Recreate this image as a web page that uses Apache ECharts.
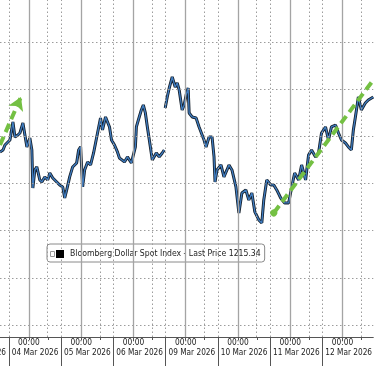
<!DOCTYPE html>
<html><head><meta charset="utf-8">
<script src="https://cdn.jsdelivr.net/npm/echarts@6/dist/echarts.min.js"></script>
<style>html,body{margin:0;padding:0;background:#fff}#c{width:375px;height:366px}</style>
</head><body><div id="c"></div>
<script>
// ---- data ----
const seriesName = 'Bloomberg Dollar Spot Index - Last Price 1215.34';
const dayLabels = ['04 Mar 2026','05 Mar 2026','06 Mar 2026','09 Mar 2026','10 Mar 2026','11 Mar 2026','12 Mar 2026'];
const prevDayLabel = '03 Mar 2026';
const timeLabel = '00:00';
// x = trading-day position (0 = start of 04 Mar session)
const times = [
 -0.171,-0.114,-0.076,-0.038,0.019,0.076,0.114,0.171,0.210,0.267,0.305,0.343,0.400,0.438,0.457,0.495,0.533,0.590,0.629,0.686,
 0.743,0.781,0.838,0.914,0.971,1.029,1.067,1.105,1.162,1.219,1.295,1.333,1.371,1.410,1.448,1.505,1.562,1.619,1.657,1.714,
 1.752,1.790,1.848,1.886,1.924,1.962,2.019,2.076,2.114,2.210,2.267,2.343,2.381,2.419,2.438,2.476,2.533,2.571,2.610,2.648,
 2.686,2.743,2.819,2.876,2.933,2.971,2.980,
 2.990,3.029,3.067,3.124,3.181,3.219,3.257,3.314,3.352,3.390,3.429,3.448,3.505,3.581,3.638,3.676,3.733,3.771,3.829,3.886,
 3.924,3.943,3.981,4.019,4.057,4.114,4.171,4.210,4.267,4.343,4.400,4.457,4.533,4.590,4.648,4.705,4.781,4.838,4.876,4.933,
 5.010,5.067,5.124,5.200,5.276,5.352,5.410,5.467,5.543,5.600,5.676,5.733,5.790,5.867,5.924,5.981,6.057,6.114,6.171,6.248,
 6.305,6.362,6.438,6.495,6.552,6.590,6.629,6.686,6.743,6.819,6.876,6.971
];
const prices = [
 1208.34,1208.55,1209.08,1208.87,1209.61,1211.52,1209.93,1210.14,1210.35,1211.41,1210.14,1208.87,1209.82,1208.55,1204.52,1206.43,1206.75,1205.37,1205.16,1205.69,
 1205.37,1206.11,1205.58,1205.16,1204.84,1204.63,1203.46,1204.31,1205.69,1206.75,1207.17,1208.55,1208.87,1204.63,1206.43,1207.28,1206.96,1208.23,1209.29,1210.88,
 1211.94,1210.67,1212.05,1212.26,1210.99,1209.61,1209.08,1208.34,1207.70,1207.28,1207.81,1207.17,1206.96,1208.87,1210.99,1211.73,1212.79,1213.32,1212.47,1210.99,
 1209.61,1207.49,1208.23,1207.81,1208.23,1208.55,null,
 1213.00,1214.17,1215.12,1216.29,1215.23,1215.65,1214.91,1212.79,1213.32,1214.38,1215.12,1212.47,1212.05,1211.94,1210.99,1211.20,1209.61,1208.87,1209.93,1209.93,
 1207.81,1205.16,1206.43,1206.43,1206.96,1205.69,1206.43,1206.96,1206.43,1204.63,1201.87,1203.99,1204.31,1203.25,1203.99,1201.98,1201.13,1200.81,1203.25,1205.37,
 1204.84,1204.84,1204.31,1203.46,1202.93,1202.93,1204.63,1206.11,1205.37,1206.96,1205.37,1208.02,1208.55,1207.81,1208.23,1210.35,1210.99,1209.61,1210.99,1211.20,
 1210.35,1209.61,1209.29,1208.87,1208.55,1210.67,1212.05,1214.17,1212.79,1213.53,1213.85,1214.17
];
const gridPrices = [1190,1195,1200,1205,1210,1215,1220];
const trendArrow1 = [[-0.171,1209.08],[0.229,1214.17]];
const trendArrow2 = [[5.067,1201.87],[6.971,1215.97]];

// ---- layout / style ----
const F = "'DejaVu Sans Condensed','DejaVu Sans',sans-serif";
const xMin = -9/52.5, xMax = 366/52.5;
const dayIdx = dayLabels.map((_,i)=>i);
const midnightX = dayIdx.map(d=>d+0.381);
const eveningX = dayIdx.map(d=>d+0.743);
const dayStartX = dayIdx.map(d=>d);
const dayMidX = dayIdx.map(d=>d+0.5);
const gridGray = '#9c9c9c';
const dotStyle = {color:gridGray, width:1, type:[1.5,2.5]};
const solidStyle = {color:'#a4a4a4', width:1.3, type:'solid'};

const lineData = times.map((t,i)=>[t, prices[i]]);

const gridMarks = []
  .concat(gridPrices.map(v=>({yAxis:v, lineStyle:dotStyle})))
  .concat(dayStartX.map(v=>({xAxis:v, lineStyle:dotStyle})))
  .concat(eveningX.map(v=>({xAxis:v, lineStyle:dotStyle})))
  .concat(midnightX.map(v=>({xAxis:v, lineStyle:solidStyle})));

const green = '#74c043';
const chart = echarts.init(document.getElementById('c'), null, {renderer:'canvas'});
chart.setOption({
  animation:false,
  backgroundColor:'#fff',
  grid:{left:0,right:0,top:0,bottom:29,containLabel:false},
  xAxis:[
    {type:'value',min:xMin,max:xMax,position:'bottom',
     axisLine:{show:true,lineStyle:{color:'#555',width:1}},
     axisTick:{show:true,customValues:[].concat(dayStartX,eveningX,midnightX),length:3,lineStyle:{color:'#555'}},
     axisLabel:{show:true,customValues:midnightX,formatter:()=>timeLabel,margin:2,fontSize:8.3,color:'#222',fontFamily:F},
     splitLine:{show:false}},
    {type:'value',min:xMin,max:xMax,position:'bottom',
     axisLine:{show:false},
     axisTick:{show:true,customValues:dayStartX,length:30,lineStyle:{color:'#555'}},
     axisLabel:{show:true,customValues:dayMidX,formatter:v=>dayLabels[Math.floor(v)],margin:12,fontSize:8.2,color:'#222',fontFamily:F},
     splitLine:{show:false}}
  ],
  yAxis:{type:'value',min:1188.72,max:1224.45,show:true,axisLine:{show:false},axisTick:{show:false},axisLabel:{show:false},splitLine:{show:false}},
  legend:{show:true,data:[seriesName],left:47,top:244,orient:'horizontal',
    padding:[5,4,4,9],itemWidth:8,itemHeight:8,
    itemStyle:{opacity:0},lineStyle:{opacity:0},
    backgroundColor:'#fff',borderColor:'#8a8a8a',borderWidth:1,borderRadius:3,
    textStyle:{fontSize:8.6,color:'#222',fontFamily:F},selectedMode:false},
  graphic:[
    {type:'rect',left:50,top:251,shape:{width:4,height:5},style:{fill:'#fff',stroke:'#999',lineWidth:1},z:100},
    {type:'rect',left:56,top:250,shape:{width:8,height:8},style:{fill:'#000'},z:100},
    {type:'text',right:375-6,top:349,style:{text:prevDayLabel,font:"8.2px "+F,fill:'#222',align:'right'}}
  ],
  series:[
    {type:'line',name:'grid',data:[],z:1,silent:true,
     markLine:{silent:true,symbol:['none','none'],label:{show:false},animation:false,data:gridMarks}},
    {type:'line',name:seriesName,data:lineData,z:3,showSymbol:false,connectNulls:false,
     lineStyle:{color:'#15202c',width:3},itemStyle:{color:'#000'}},
    {type:'line',name:'overlay',data:lineData,z:4,showSymbol:false,connectNulls:false,
     lineStyle:{color:'#3f7cc0',width:1.3}},
    {type:'line',name:'trend',data:[],z:6,silent:true,
     markLine:{silent:true,label:{show:false},animation:false,
       lineStyle:{color:green,width:4,type:[9,5]},
       data:[
         [{coord:trendArrow1[0],symbol:'none'},{coord:trendArrow1[1],symbol:'arrow',symbolSize:[12,13]}],
         [{coord:trendArrow2[0],symbol:'circle',symbolSize:7},{coord:trendArrow2[1],symbol:'none'}]
       ]}}
  ]
});
</script></body></html>
